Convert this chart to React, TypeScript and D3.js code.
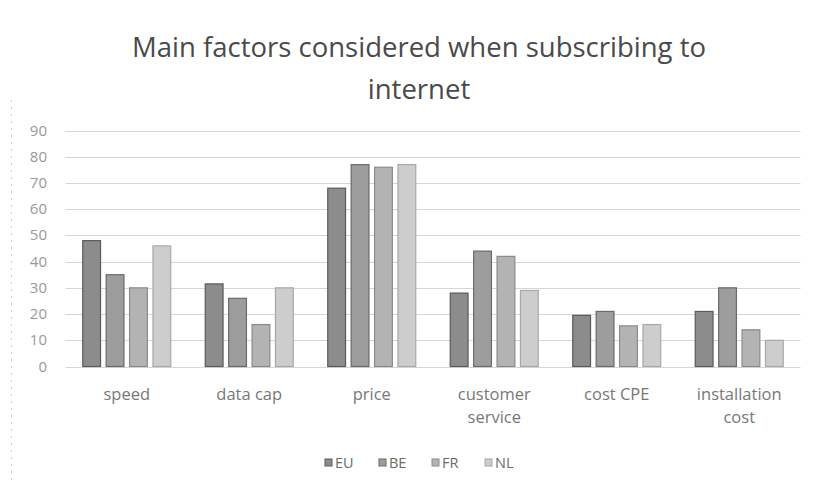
import React from "react";
import * as d3 from "d3";

const categories = [["speed"], ["data cap"], ["price"], ["customer", "service"], ["cost CPE"], ["installation", "cost"]];
const seriesNames = ["EU", "BE", "FR", "NL"];
const EU = [48, 31.5, 68, 28, 19.5, 21];
const BE = [35, 26, 77, 44, 21, 30];
const FR = [30, 16, 76, 42, 15.5, 14];
const NL = [46, 30, 77, 29, 16, 10];
const yTicks = [0, 10, 20, 30, 40, 50, 60, 70, 80, 90];
const colors = ["#8c8c8c", "#9d9d9d", "#b3b3b3", "#cdcdcd"];
const strokes = ["#5a5a5a", "#6a6a6a", "#8a8a8a", "#a8a8a8"];

export default function App() {
  const W = 816, H = 491;
  const left = 65.5, right = 800.5, top = 130.5, bottom = 366.5;
  const series = [EU, BE, FR, NL];
  const x0 = d3.scaleBand<number>().domain(d3.range(categories.length)).range([left, right]).paddingInner(0).paddingOuter(0);
  const x1 = d3.scaleBand<number>().domain(d3.range(4)).range([0, 88]).paddingInner(0.24).paddingOuter(0);
  const y = d3.scaleLinear().domain([0, 90]).range([bottom, top]);
  const font = "'Open Sans', 'Liberation Sans', sans-serif";
  const legendX = [325, 379, 432, 485];
  return (
    <svg width={W} height={H} style={{ position: "absolute", left: 0, top: 0, background: "#fff" }} fontFamily={font}>
      <rect x={0} y={0} width={W} height={H} fill="#fff" />
      <line x1={11.5} x2={11.5} y1={100} y2={480} stroke="#ccc" strokeDasharray="2,5" />
      <text x={419} y={57} textAnchor="middle" fontSize={27.5} fill="#4a4a4a">Main factors considered when subscribing to</text>
      <text x={419} y={99} textAnchor="middle" fontSize={27.5} fill="#4a4a4a">internet</text>
      {yTicks.map((t) => (
        <g key={t}>
          <line x1={left} x2={right} y1={Math.round(y(t)) + 0.5} y2={Math.round(y(t)) + 0.5} stroke="#d6d6d6" strokeWidth={1} />
          <text x={47} y={y(t) + 5} textAnchor="end" fontSize={15} fill="#999">{t}</text>
        </g>
      ))}
      {categories.map((c, i) => {
        const gx = (x0(i) as number) + x0.bandwidth() / 2 - 44;
        return (
          <g key={i}>
            {series.map((s, j) => (
              <rect key={j} x={gx + (x1(j) as number)} y={y(s[i])} width={x1.bandwidth()} height={y(0) - y(s[i])}
                fill={colors[j]} stroke={strokes[j]} strokeWidth={1.2} />
            ))}
            {c.map((line, k) => (
              <text key={k} x={(x0(i) as number) + x0.bandwidth() / 2} y={400 + k * 23} textAnchor="middle" fontSize={16.5} fill="#777">{line}</text>
            ))}
          </g>
        );
      })}
      {seriesNames.map((n, j) => {
        const lx = legendX[j];
        return (
          <g key={n}>
            <rect x={lx} y={459} width={7} height={7} fill={colors[j]} stroke={strokes[j]} />
            <text x={lx + 10} y={468} fontSize={14.5} fill="#6a6a6a">{n}</text>
          </g>
        );
      })}
    </svg>
  );
}
